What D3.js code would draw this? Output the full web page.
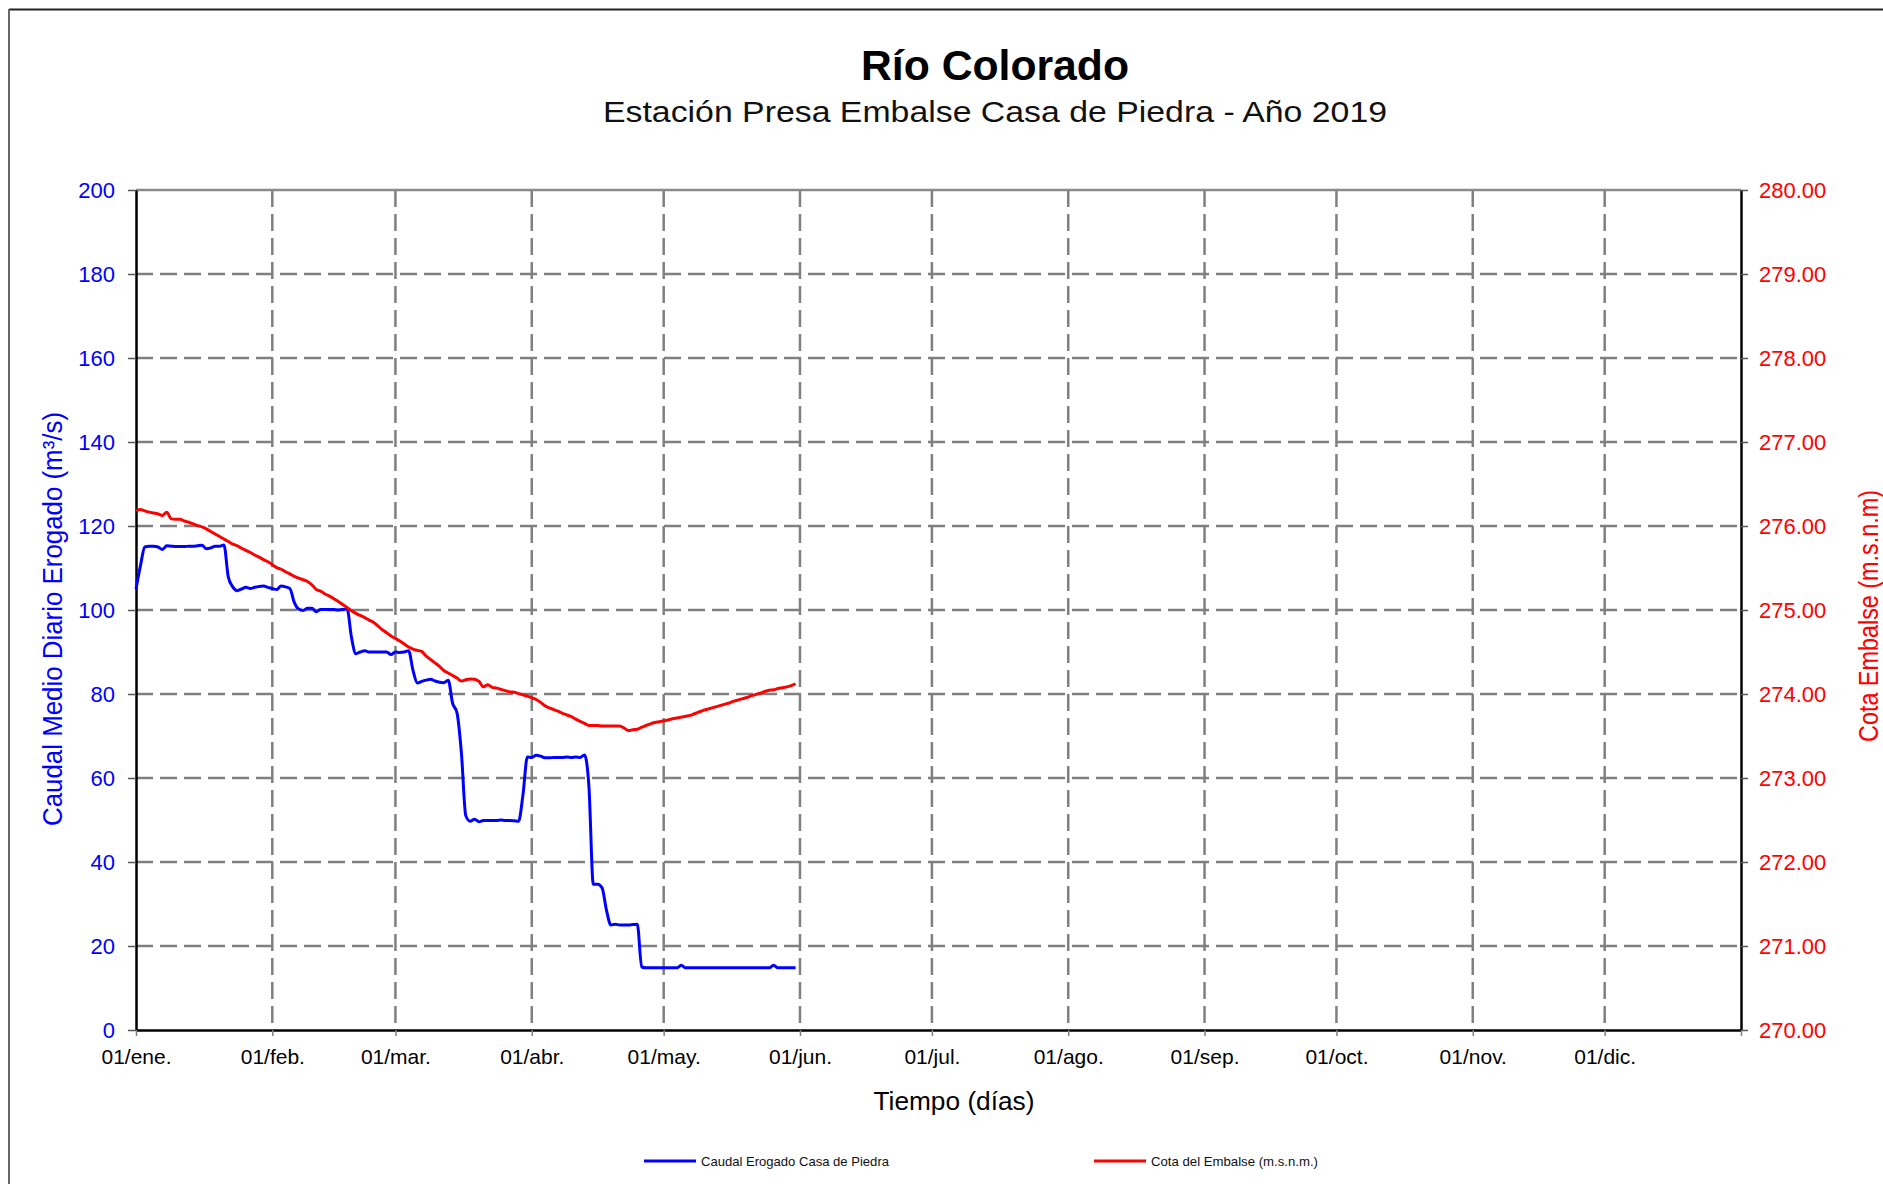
<!DOCTYPE html>
<html>
<head>
<meta charset="utf-8">
<script src="https://cdn.jsdelivr.net/npm/d3@7/dist/d3.min.js"></script>
<style>
  html, body { margin: 0; padding: 0; background: #fff; }
  svg { display: block; }
  text { font-family: "Liberation Sans", Arial, sans-serif; }
</style>
</head>
<body>
<svg id="chart" width="1883" height="1184"></svg>
<script>
// ---------------- DATA ----------------
const startDate = "2019-01-01";
const monthLabels = ["01/ene.","01/feb.","01/mar.","01/abr.","01/may.","01/jun.",
                     "01/jul.","01/ago.","01/sep.","01/oct.","01/nov.","01/dic."];
const leftTicks = [0,20,40,60,80,100,120,140,160,180,200];
const rightTicks = [270,271,272,273,274,275,276,277,278,279,280];

// Caudal Erogado Casa de Piedra (m3/s), daily from 01/ene
const caudal = [
  105,110.5,115,115.2,115.2,115,114.4,115.3,115.2,115.1,
  115.1,115.1,115.2,115.2,115.3,115.4,114.6,114.8,115.2,115.2,
  115.5,107.8,105.5,104.6,105,105.4,105.1,105.4,105.6,105.7,
  105.4,105.1,104.9,105.7,105.5,105.1,101.8,100.2,99.9,100.4,
  100.4,99.6,100.1,100.1,100.1,100.1,100,100.1,100.3,93.5,
  89.6,90,90.3,90,90,90,90,90,89.4,90,
  89.9,90,90.3,85.6,82.6,83,83.3,83.5,83.1,82.8,
  82.7,83.3,77.8,75.5,66,51,49.7,50.2,49.6,49.9,
  49.9,49.9,49.9,50,49.9,49.9,49.8,49.7,56,65,
  64.9,65.4,65.2,64.8,64.8,64.9,64.9,64.9,65,64.9,
  65,64.9,65.5,58,34.7,34.7,33.8,28.5,25,25.2,
  25,25,25,25.1,25.2,15,14.8,14.8,14.8,14.8,
  14.8,14.8,14.8,14.8,15.4,14.8,14.8,14.8,14.8,14.8,
  14.8,14.8,14.8,14.8,14.8,14.8,14.8,14.8,14.8,14.8,
  14.8,14.8,14.8,14.8,14.8,15.4,14.8,14.8,14.8,14.8,
  14.8
];

// Cota del Embalse (m.s.n.m.), daily from 01/ene
const cota = [
  276.18,276.195,276.18,276.165,276.155,276.145,276.125,276.165,276.085,276.08,
  276.08,276.06,276.045,276.025,276.005,275.99,275.965,275.935,275.905,275.875,
  275.845,275.815,275.785,275.765,275.735,275.71,275.685,275.655,275.63,275.60,
  275.575,275.54,275.505,275.485,275.455,275.43,275.40,275.38,275.36,275.34,
  275.30,275.245,275.225,275.19,275.165,275.135,275.10,275.065,275.03,274.99,
  274.96,274.935,274.91,274.88,274.855,274.81,274.765,274.73,274.69,274.66,
  274.63,274.595,274.56,274.535,274.52,274.505,274.45,274.41,274.37,274.33,
  274.28,274.25,274.22,274.19,274.155,274.17,274.18,274.175,274.15,274.085,
  274.11,274.08,274.07,274.055,274.04,274.025,274.02,274.005,273.99,273.975,
  273.955,273.935,273.90,273.86,273.835,273.815,273.795,273.77,273.75,273.73,
  273.70,273.675,273.65,273.625,273.625,273.625,273.62,273.62,273.62,273.62,
  273.62,273.595,273.565,273.575,273.58,273.605,273.625,273.645,273.66,273.67,
  273.68,273.69,273.705,273.715,273.725,273.735,273.745,273.765,273.785,273.805,
  273.82,273.835,273.85,273.865,273.88,273.895,273.915,273.93,273.945,273.96,
  273.98,273.995,274.01,274.03,274.045,274.05,274.065,274.075,274.085,274.10,
  274.12
];

// ---------------- CHART ----------------
const svg = d3.select("#chart");
const P = { l: 136, r: 1741, t: 190, b: 1030 };
const parse = d3.utcParse("%Y-%m-%d");
const t0 = parse(startDate);
const dayDate = i => d3.utcDay.offset(t0, i);

const x = d3.scaleUtc().domain([t0, parse("2020-01-01")]).range([P.l, P.r]);
const yL = d3.scaleLinear().domain([0, 200]).range([P.b, P.t]);
const yR = d3.scaleLinear().domain([270, 280]).range([P.b, P.t]);

svg.append("rect").attr("width", 1883).attr("height", 1184).attr("fill", "#fff");

// outer frame
svg.append("line").attr("x1", 9).attr("x2", 1883).attr("y1", 9.5).attr("y2", 9.5)
   .attr("stroke", "#222").attr("stroke-width", 2);
svg.append("line").attr("x1", 9).attr("x2", 9).attr("y1", 9).attr("y2", 1184)
   .attr("stroke", "#666").attr("stroke-width", 2);

// titles
function fit(sel, w) { sel.attr("textLength", w).attr("lengthAdjust", "spacingAndGlyphs"); return sel; }
fit(svg.append("text").attr("x", 995).attr("y", 80).attr("text-anchor", "middle")
   .attr("font-size", 42).attr("font-weight", "bold").attr("fill", "#000")
   .text("Río Colorado"), 268);
fit(svg.append("text").attr("x", 995).attr("y", 122).attr("text-anchor", "middle")
   .attr("font-size", 30).attr("fill", "#111")
   .text("Estación Presa Embalse Casa de Piedra - Año 2019"), 784);

// grid
const monthDates = d3.utcMonth.range(t0, parse("2020-01-01"));
const grid = svg.append("g");
grid.selectAll("line.h").data(leftTicks.filter(v => v > 0 && v < 200)).join("line")
  .attr("x1", P.l).attr("x2", P.r).attr("y1", d => yL(d)).attr("y2", d => yL(d))
  .attr("stroke", "#808080").attr("stroke-width", 2.5).attr("stroke-dasharray", "17,7");
grid.selectAll("line.v").data(monthDates.slice(1)).join("line")
  .attr("x1", d => x(d)).attr("x2", d => x(d)).attr("y1", P.t).attr("y2", P.b)
  .attr("stroke", "#808080").attr("stroke-width", 2.5).attr("stroke-dasharray", "17,7");
// top border
svg.append("line").attr("x1", P.l).attr("x2", P.r).attr("y1", P.t).attr("y2", P.t)
  .attr("stroke", "#8a8a8a").attr("stroke-width", 2.5);

// axes
const axL = svg.append("g").attr("transform", `translate(${P.l},0)`)
  .call(d3.axisLeft(yL).tickValues(leftTicks).tickSize(8).tickSizeOuter(0).tickPadding(13));
axL.select(".domain").attr("stroke", "#000").attr("stroke-width", 2.5);
axL.selectAll(".tick line").attr("stroke", "#555").attr("stroke-width", 1.5);
axL.selectAll(".tick text").attr("fill", "#0000ff").attr("font-size", 22)
  .attr("font-family", "'Liberation Sans', Arial, sans-serif");

const axR = svg.append("g").attr("transform", `translate(${P.r},0)`)
  .call(d3.axisRight(yR).tickValues(rightTicks).tickSize(7).tickSizeOuter(0).tickPadding(11)
        .tickFormat(d3.format(".2f")));
axR.select(".domain").attr("stroke", "#000").attr("stroke-width", 2.5);
axR.selectAll(".tick line").attr("stroke", "#555").attr("stroke-width", 1.5);
axR.selectAll(".tick text").attr("fill", "#ff0000").attr("font-size", 22)
  .attr("font-family", "'Liberation Sans', Arial, sans-serif");

const xTickDates = monthDates.concat([parse("2020-01-01")]);
const axB = svg.append("g").attr("transform", `translate(0,${P.b})`)
  .call(d3.axisBottom(x).tickValues(xTickDates).tickSize(6).tickSizeOuter(0)
        .tickFormat((d, i) => monthLabels[i] || ""));
axB.select(".domain").attr("stroke", "#000").attr("stroke-width", 2.5);
axB.selectAll(".tick line").attr("stroke", "#808080").attr("stroke-width", 1.5);
axB.selectAll(".tick text").attr("fill", "#000").attr("font-size", 21)
  .attr("y", 34).attr("dy", null)
  .attr("font-family", "'Liberation Sans', Arial, sans-serif");

// axis titles
fit(svg.append("text").attr("transform", "translate(62,619) rotate(-90)")
   .attr("text-anchor", "middle").attr("font-size", 27).attr("fill", "#0000ff")
   .text("Caudal Medio Diario Erogado (m³/s)"), 414);
fit(svg.append("text").attr("transform", "translate(1878,616) rotate(-90)")
   .attr("text-anchor", "middle").attr("font-size", 27).attr("fill", "#ff0000")
   .text("Cota Embalse (m.s.n.m)"), 252);
fit(svg.append("text").attr("x", 954).attr("y", 1110).attr("text-anchor", "middle")
   .attr("font-size", 26).attr("fill", "#000").text("Tiempo (días)"), 161);

// series
const lineL = d3.line().x((d, i) => x(dayDate(i))).y(d => yL(d)).curve(d3.curveMonotoneX);
const lineR = d3.line().x((d, i) => x(dayDate(i))).y(d => yR(d)).curve(d3.curveMonotoneX);
svg.append("path").datum(caudal).attr("d", lineL).attr("fill", "none")
  .attr("stroke", "#0000ff").attr("stroke-width", 3).attr("stroke-linejoin", "round");
svg.append("path").datum(cota).attr("d", lineR).attr("fill", "none")
  .attr("stroke", "#ff0000").attr("stroke-width", 3).attr("stroke-linejoin", "round");

// legend
const legend = [
  { label: "Caudal Erogado Casa de Piedra", color: "#0000ff", x: 644, w: 188 },
  { label: "Cota del Embalse (m.s.n.m.)", color: "#ff0000", x: 1094, w: 167 }
];
const lg = svg.append("g").selectAll("g").data(legend).join("g");
lg.append("line").attr("x1", d => d.x).attr("x2", d => d.x + 52)
  .attr("y1", 1161).attr("y2", 1161).attr("stroke", d => d.color).attr("stroke-width", 3);
lg.append("text").attr("x", d => d.x + 57).attr("y", 1165.5).attr("font-size", 13)
  .attr("fill", "#111").text(d => d.label)
  .attr("textLength", d => d.w).attr("lengthAdjust", "spacingAndGlyphs");
</script>
</body>
</html>
